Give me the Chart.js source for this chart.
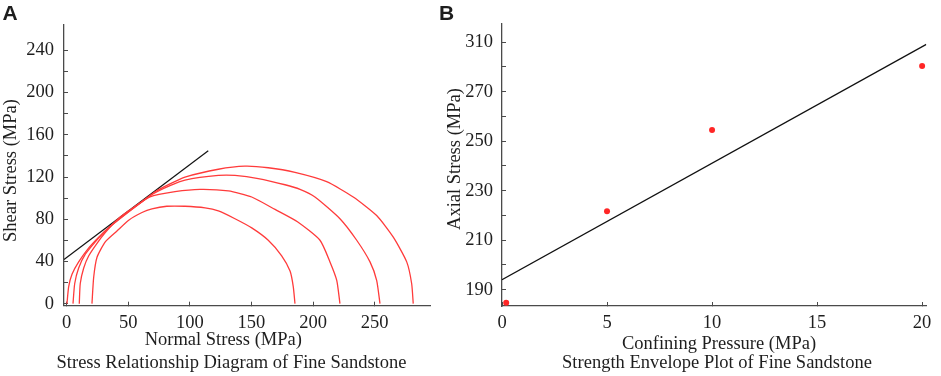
<!DOCTYPE html>
<html>
<head>
<meta charset="utf-8">
<script src="https://cdn.jsdelivr.net/npm/chart.js@4.4.1/dist/chart.umd.min.js"></script>
<style>
  html, body { margin: 0; padding: 0; background: #ffffff; }
  #wrap { position: relative; width: 941px; height: 376px; overflow: hidden; background: #ffffff; }
  #chartA { position: absolute; left: 0; top: 0; }
  #chartB { position: absolute; left: 430px; top: 0; }
</style>
</head>
<body>
<div id="wrap">
  <canvas id="chartA" width="470" height="376"></canvas>
  <canvas id="chartB" width="511" height="376"></canvas>
</div>
<script>
// ---------- Panel A: Mohr stress circles (normal stress, shear stress in MPa) ----------
const mohr1Sigma = [20.5, 21.9, 24.6, 31.3, 40.8, 50.3, 61.1, 69.2, 81.2, 96.0, 112.3, 123.1, 136.6, 150.2, 163.6, 174.5, 181.3, 183.9, 185.3];
const mohr1Tau   = [0, 25.0, 44.0, 58.6, 68.9, 79.1, 86.4, 89.9, 92.3, 92.3, 90.8, 87.9, 80.5, 71.8, 60.1, 45.4, 30.9, 16.2, 0];

const mohr2Sigma = [10.2, 11.0, 13.8, 17.9, 24.6, 31.3, 41.6, 51.4, 67.6, 87.9, 108.2, 131.2, 150.2, 169.1, 187.3, 205.6, 213.7, 219.2, 221.8];
const mohr2Tau   = [0, 19.1, 33.8, 45.4, 57.2, 67.4, 80.3, 89.0, 101.3, 106.1, 108.3, 106.8, 101.1, 89.3, 77.6, 60.1, 39.6, 22.1, 0];

const mohr3Sigma = [5.1, 6.5, 9.7, 15.1, 23.2, 30.0, 35.1, 47.3, 59.5, 70.0, 83.8, 96.0, 123.1, 136.6, 155.5, 177.2, 189.4, 201.5, 221.8, 235.4, 246.2, 251.6, 254.3];
const mohr3Tau   = [0, 19.1, 33.8, 46.9, 58.6, 67.4, 73.2, 84.6, 95.2, 103.9, 111.8, 117.1, 121.5, 121.5, 118.6, 112.7, 108.3, 101.1, 80.5, 60.1, 39.6, 22.1, 0];

const mohr4Sigma = [0.2, 1.6, 4.3, 9.7, 17.9, 26.0, 35.1, 47.3, 59.5, 71.7, 83.8, 96.0, 123.1, 144.7, 163.6, 185.3, 211.0, 232.6, 251.6, 265.1, 276.0, 280.0, 281.3];
const mohr4Tau   = [0, 16.2, 27.9, 39.6, 52.8, 63.0, 72.8, 84.2, 95.2, 106.1, 113.6, 120.0, 127.4, 130.3, 128.8, 124.4, 115.6, 101.1, 83.5, 63.0, 39.6, 19.1, 0];

const envelopeSigma = [-2.2, 114.9];
const envelopeTau   = [41.9, 144.9];

const xTickLabelsA = [0, 50, 100, 150, 200, 250];
const yTickLabelsA = [0, 40, 80, 120, 160, 200, 240];

// ---------- Panel B: strength envelope ----------
const confiningPressure = [0.2, 5, 10, 20];
const axialStress       = [184.7, 221.7, 254.5, 280.4];
const fitPressure = [0, 20.2];
const fitAxial    = [194.0, 289.1];

const xTickLabelsB = [0, 5, 10, 15, 20];
const yTickValuesB = [190, 210, 230, 250, 270, 290];
const yTickLabelsB = ['190', '210', '230', '250', '270', '310'];

// ---------- Texts ----------
const panelLabelA = 'A';
const panelLabelB = 'B';
const xTitleA = 'Normal Stress (MPa)';
const yTitleA = 'Shear Stress (MPa)';
const captionA = 'Stress Relationship Diagram of Fine Sandstone';
const xTitleB = 'Confining Pressure (MPa)';
const yTitleB = 'Axial Stress (MPa)';
const captionB = 'Strength Envelope Plot of Fine Sandstone';

// ---------- Styling ----------
const RED = '#ff3b3b';
const DOT = '#ff2626';
const AXIS = '#4a4a4a';
const TEXT = '#1e1e1e';
const SERIF = '"Liberation Serif", "Times New Roman", serif';
const tickFont = { family: SERIF, size: 18.5 };
const titleFont = '18.5px ' + SERIF;
const letterFont = 'bold 21px "Liberation Sans", Arial, sans-serif';

const pts = (xs, ys) => xs.map((x, i) => ({ x: x, y: ys[i] }));

const captionPlugin = {
  id: 'captions',
  afterDraw(chart, args, opts) {
    const ctx = chart.ctx;
    (opts.items || []).forEach(it => {
      ctx.save();
      ctx.fillStyle = TEXT;
      ctx.font = it.font;
      ctx.textAlign = it.align || 'center';
      ctx.textBaseline = 'alphabetic';
      ctx.translate(it.x, it.y);
      if (it.rotate) ctx.rotate(it.rotate);
      ctx.fillText(it.text, 0, 0);
      ctx.restore();
    });
  }
};

function axisBase() {
  return {
    type: 'linear',
    border: { display: true, color: AXIS, width: 1.3 },
    grid: { display: true, drawOnChartArea: false, drawTicks: true, tickLength: -4, color: AXIS, lineWidth: 1 },
  };
}

const curveStyle = { showLine: true, pointRadius: 0, borderColor: RED, borderWidth: 1.3, tension: 0.2, fill: false };

new Chart(document.getElementById('chartA'), {
  type: 'scatter',
  data: {
    datasets: [
      Object.assign({ label: 'Circle 1', data: pts(mohr1Sigma, mohr1Tau) }, curveStyle),
      Object.assign({ label: 'Circle 2', data: pts(mohr2Sigma, mohr2Tau) }, curveStyle),
      Object.assign({ label: 'Circle 3', data: pts(mohr3Sigma, mohr3Tau) }, curveStyle),
      Object.assign({ label: 'Circle 4', data: pts(mohr4Sigma, mohr4Tau) }, curveStyle),
      { label: 'Envelope', data: pts(envelopeSigma, envelopeTau), showLine: true, pointRadius: 0, borderColor: '#111111', borderWidth: 1.2, tension: 0 }
    ]
  },
  options: {
    responsive: false,
    animation: false,
    layout: { padding: { left: 0, right: 40, top: 2.5, bottom: 0 } },
    plugins: {
      legend: { display: false },
      tooltip: { enabled: false },
      captions: {
        items: [
          { text: panelLabelA, x: 2.5, y: 19.5, font: letterFont, align: 'left' },
          { text: yTitleA, x: 15.5, y: 170.5, font: titleFont, rotate: -Math.PI / 2 },
          { text: xTitleA, x: 223.3, y: 344.5, font: titleFont },
          { text: captionA, x: 231.5, y: 368, font: titleFont }
        ]
      }
    },
    scales: {
      x: Object.assign(axisBase(), {
        min: -2.2, max: 294.9,
        ticks: { stepSize: 50, includeBounds: false, autoSkip: false, maxRotation: 0, padding: 10, color: TEXT, font: tickFont,
          callback: v => xTickLabelsA.includes(v) ? String(v) : null },
        afterFit: s => { s.height = 70.3; }
      }),
      y: Object.assign(axisBase(), {
        min: -1.93, max: 264,
        ticks: { stepSize: 20, includeBounds: false, autoSkip: false, padding: 14, color: TEXT, font: tickFont,
          callback: v => yTickLabelsA.includes(v) ? String(v) : (v <= 240 ? '' : null) },
        afterFit: s => { s.width = 64; }
      })
    }
  },
  plugins: [captionPlugin]
});

new Chart(document.getElementById('chartB'), {
  type: 'scatter',
  data: {
    datasets: [
      { label: 'Measured', data: pts(confiningPressure, axialStress), showLine: false, pointRadius: 3, pointBackgroundColor: DOT, pointBorderWidth: 0, borderColor: DOT },
      { label: 'Fit', data: pts(fitPressure, fitAxial), showLine: true, pointRadius: 0, borderColor: '#111111', borderWidth: 1.2, tension: 0 }
    ]
  },
  options: {
    responsive: false,
    animation: false,
    layout: { padding: { left: 0, right: 4.3, top: 2, bottom: 0 } },
    plugins: {
      legend: { display: false },
      tooltip: { enabled: false },
      captions: {
        items: [
          { text: panelLabelB, x: 9, y: 20, font: letterFont, align: 'left' },
          { text: yTitleB, x: 29.5, y: 159, font: titleFont, rotate: -Math.PI / 2 },
          { text: xTitleB, x: 289, y: 348.5, font: titleFont },
          { text: captionB, x: 287, y: 368, font: titleFont }
        ]
      }
    },
    scales: {
      x: Object.assign(axisBase(), {
        min: 0, max: 20.2,
        ticks: { stepSize: 5, includeBounds: false, autoSkip: false, maxRotation: 0, padding: 9.6, color: TEXT, font: tickFont,
          callback: v => xTickLabelsB.includes(v) ? String(v) : null },
        afterFit: s => { s.height = 70; }
      }),
      y: Object.assign(axisBase(), {
        min: 183.4, max: 297.3,
        ticks: { stepSize: 10, includeBounds: false, autoSkip: false, padding: 13, color: TEXT, font: tickFont,
          callback: v => { const i = yTickValuesB.indexOf(v); return i >= 0 ? yTickLabelsB[i] : ''; } },
        afterFit: s => { s.width = 72; }
      })
    }
  },
  plugins: [captionPlugin]
});
</script>
</body>
</html>
